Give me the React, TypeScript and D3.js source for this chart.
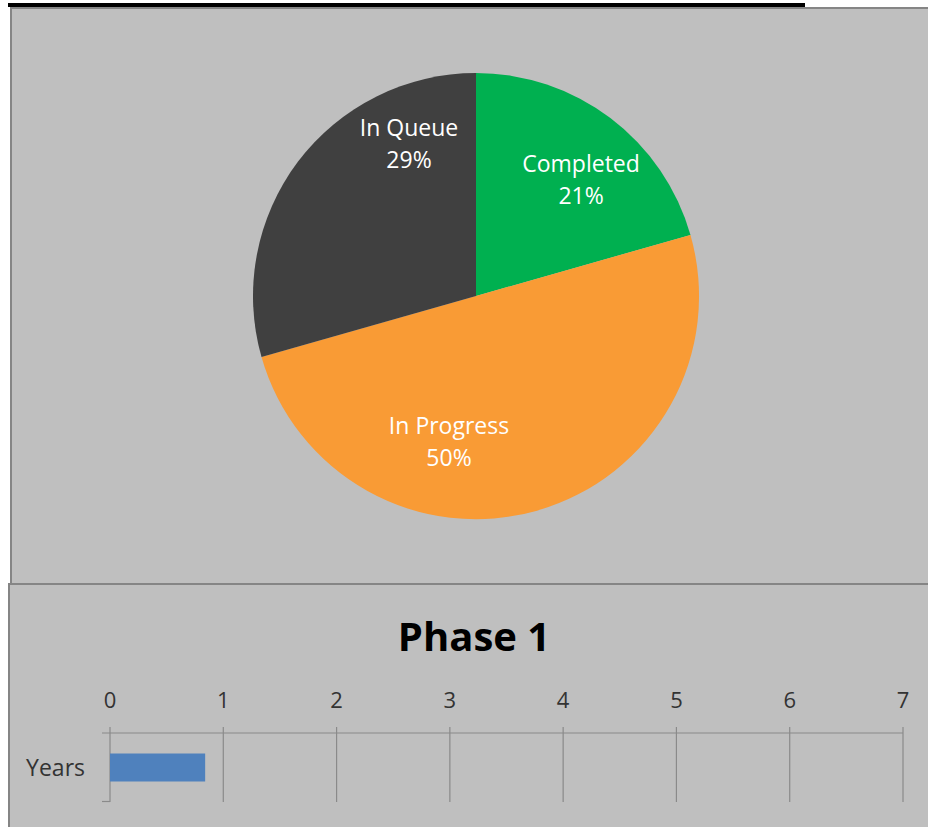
import * as d3 from 'd3';
import {useEffect,useRef} from "react";

// pie data (task counts, labels show share of total)
const statusNames = ["Completed", "In Progress", "In Queue"];
const statusCounts = [7, 17, 10];
const statusColors = ["#00B050", "#F99B35", "#404040"];

// bar data
const barCategories = ["Years"];
const barValues = [0.84];
const xTicks = [0, 1, 2, 3, 4, 5, 6, 7];

const width = 928;
const height = 827;

// where Excel put the data labels (angle in degrees, distance from centre)
const labelSpots = [[42, 157], [190.5, 148], [-23.8, 166]];

export default function App(){

    const svgRef = useRef<SVGSVGElement>(null);

    useEffect(() => {
        document.body.style.margin = "0";

        const svg = d3.select(svgRef.current)
            .attr('width', width)
            .attr('height', height);

        svg.selectAll("*").remove();

        // panels
        svg.append("rect")
            .attr("x", 11).attr("y", 8)
            .attr("width", 940).attr("height", 576)
            .attr("fill", "#BFBFBF")
            .attr("stroke", "#858585").attr("stroke-width", 2);

        svg.append("rect")
            .attr("x", 9).attr("y", 584)
            .attr("width", 940).attr("height", 260)
            .attr("fill", "#BFBFBF")
            .attr("stroke", "#858585").attr("stroke-width", 2);

        // underline of the cut off heading above
        svg.append("line")
            .attr("x1", 8).attr("x2", 805)
            .attr("y1", 5).attr("y2", 5)
            .attr("stroke", "#000").attr("stroke-width", 4);

        // pie
        const cx = 476, cy = 296, r = 223;
        const pie = d3.pie<number>().sort(null).value(d => d);
        const arcs = pie(statusCounts);
        const arc = d3.arc<d3.PieArcDatum<number>>().innerRadius(0).outerRadius(r);

        const pg = svg.append("g").attr("transform", `translate(${cx},${cy})`);

        pg.selectAll("path")
            .data(arcs)
            .enter().append("path")
            .attr("d", arc)
            .attr("fill", (d, i) => statusColors[i]);

        const total = d3.sum(statusCounts);

        const labels = pg.selectAll(".pie-label")
            .data(arcs)
            .enter().append("text")
            .classed("pie-label", true)
            .attr("transform", (d, i) => {
                const [a, dist] = labelSpots[i];
                const [x, y] = d3.pointRadial(a * Math.PI / 180, dist);
                return `translate(${x},${y})`;
            })
            .attr("text-anchor", "middle")
            .attr("fill", "#fff")
            .style("font-family", "'Open Sans', sans-serif")
            .style("font-size", "23px");

        labels.append("tspan")
            .attr("x", 0).attr("y", -16).attr("dy", "0.36em")
            .text((d, i) => statusNames[i]);

        labels.append("tspan")
            .attr("x", 0).attr("y", 16).attr("dy", "0.36em")
            .text(d => Math.round(d.value / total * 100) + "%");

        // bar chart
        const xScale = d3.scaleLinear()
            .domain([0, 7])
            .range([110, 903]);

        const yScale = d3.scaleBand()
            .domain(barCategories)
            .range([733, 802])
            .padding(0.423);

        const bg = svg.append("g");

        bg.append("text")
            .attr("x", 474).attr("y", 651)
            .attr("text-anchor", "middle")
            .attr("fill", "#000")
            .style("font-family", "'Open Sans', sans-serif")
            .style("font-weight", "bold")
            .style("font-size", "40px")
            .text("Phase 1");

        // gridlines
        bg.selectAll(".grid")
            .data(xTicks)
            .enter().append("line")
            .classed("grid", true)
            .attr("x1", d => xScale(d)).attr("x2", d => xScale(d))
            .attr("y1", 727).attr("y2", 802)
            .attr("stroke", "#8A8A8A").attr("stroke-width", 1.2);

        bg.append("line")
            .attr("x1", 102).attr("x2", xScale(7))
            .attr("y1", 733).attr("y2", 733)
            .attr("stroke", "#8A8A8A").attr("stroke-width", 1.2);

        bg.append("line")
            .attr("x1", 102).attr("x2", xScale(0))
            .attr("y1", 801.5).attr("y2", 801.5)
            .attr("stroke", "#8A8A8A").attr("stroke-width", 1.2);

        bg.selectAll(".tick-label")
            .data(xTicks)
            .enter().append("text")
            .classed("tick-label", true)
            .attr("x", d => xScale(d)).attr("y", 708)
            .attr("text-anchor", "middle")
            .attr("fill", "#333")
            .style("font-family", "'Open Sans', sans-serif")
            .style("font-size", "22px")
            .text(d => d);

        bg.selectAll(".bar")
            .data(barValues)
            .enter().append("rect")
            .classed("bar", true)
            .attr("x", xScale(0))
            .attr("y", (d, i) => yScale(barCategories[i]))
            .attr("width", d => xScale(d) - xScale(0))
            .attr("height", yScale.bandwidth())
            .attr("fill", "#4F81BD");

        bg.selectAll(".cat-label")
            .data(barCategories)
            .enter().append("text")
            .classed("cat-label", true)
            .attr("x", 85)
            .attr("y", d => yScale(d) + yScale.bandwidth() / 2)
            .attr("dy", "0.36em")
            .attr("text-anchor", "end")
            .attr("fill", "#333")
            .style("font-family", "'Open Sans', sans-serif")
            .style("font-size", "23px")
            .text(d => d);

        return () => {};
    },[])

    return(<div style={{position: "absolute", left: 0, top: 0}}>
        <svg ref={svgRef} style={{display: "block"}}></svg>
    </div>)
}
